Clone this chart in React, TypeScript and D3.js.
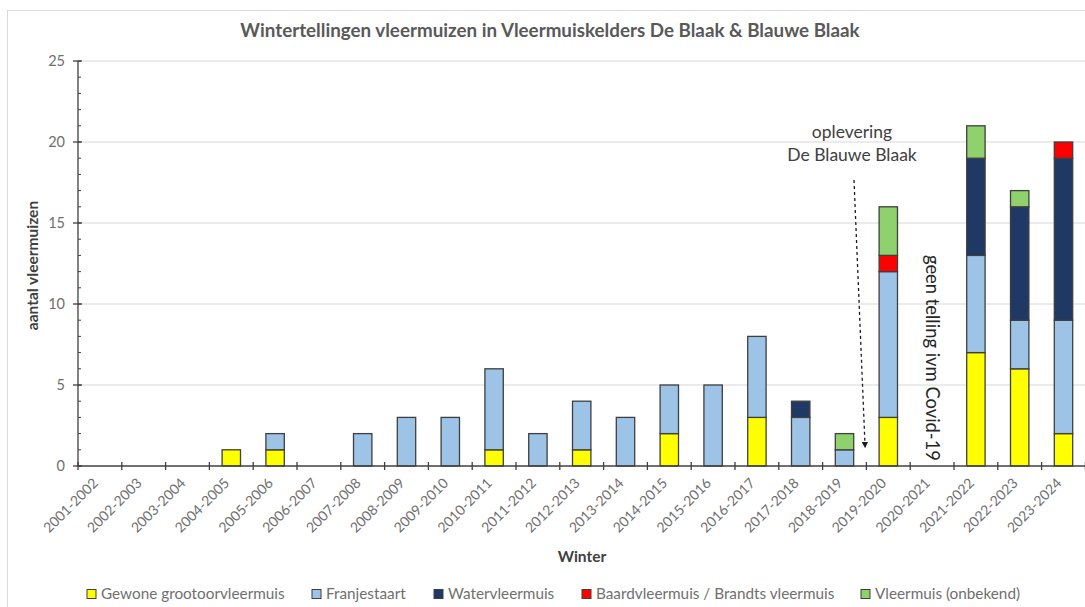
import React from "react";
import * as d3 from "d3";

const categories = [
  "2001-2002", "2002-2003", "2003-2004", "2004-2005", "2005-2006", "2006-2007",
  "2007-2008", "2008-2009", "2009-2010", "2010-2011", "2011-2012", "2012-2013",
  "2013-2014", "2014-2015", "2015-2016", "2016-2017", "2017-2018", "2018-2019",
  "2019-2020", "2020-2021", "2021-2022", "2022-2023", "2023-2024",
];
const gewone = [0, 0, 0, 1, 1, 0, 0, 0, 0, 1, 0, 1, 0, 2, 0, 3, 0, 0, 3, 0, 7, 6, 2];
const franjestaart = [0, 0, 0, 0, 1, 0, 2, 3, 3, 5, 2, 3, 3, 3, 5, 5, 3, 1, 9, 0, 6, 3, 7];
const water = [0, 0, 0, 0, 0, 0, 0, 0, 0, 0, 0, 0, 0, 0, 0, 0, 1, 0, 0, 0, 6, 7, 10];
const baard = [0, 0, 0, 0, 0, 0, 0, 0, 0, 0, 0, 0, 0, 0, 0, 0, 0, 0, 1, 0, 0, 0, 1];
const onbekend = [0, 0, 0, 0, 0, 0, 0, 0, 0, 0, 0, 0, 0, 0, 0, 0, 0, 1, 3, 0, 2, 1, 0];
const seriesNames = [
  "Gewone grootoorvleermuis",
  "Franjestaart",
  "Watervleermuis",
  "Baardvleermuis / Brandts vleermuis",
  "Vleermuis (onbekend)",
];
const yTicks = [0, 5, 10, 15, 20, 25];

const colors = ["#ffff00", "#9dc3e6", "#1f3864", "#ff0000", "#8fd16c"];
const legendX = [87, 312, 434, 582, 861];

const W = 1085;
const H = 607;
const left = 78;
const right = 1085.4;
const top = 61;
const bottom = 466;
const FONT = "Lato, 'Open Sans', sans-serif";
const GREY = "#595959";
const LABEL = "#6f6f6f";

export default function App() {
  const keys = ["g", "f", "w", "b", "o"];
  const table = categories.map((c, i) => ({
    cat: c,
    g: gewone[i],
    f: franjestaart[i],
    w: water[i],
    b: baard[i],
    o: onbekend[i],
  }));
  const stacked = d3.stack<any>().keys(keys)(table);

  const x = d3
    .scaleBand()
    .domain(categories)
    .range([left, right])
    .paddingInner(0.58)
    .paddingOuter(0.29);
  const step = x.step();
  const y = d3.scaleLinear().domain([0, 25]).range([bottom, top]);
  const minor = d3.range(0, 26);

  return (
    <svg
      width={W}
      height={H}
      style={{ position: "absolute", left: 0, top: 0, background: "#fff" }}
      fontFamily={FONT}
    >
      <rect x={0} y={0} width={W} height={H} fill="#fff" />
      <rect x={7.5} y={10.5} width={1100} height={620} fill="none" stroke="#d9d9d9" strokeWidth={1} />
      <text x={550} y={37} textAnchor="middle" fontSize={18.8} fontWeight="bold" fill={GREY}>
        Wintertellingen vleermuizen in Vleermuiskelders De Blaak &amp; Blauwe Blaak
      </text>

      {/* gridlines */}
      {yTicks.filter((t) => t > 0).map((t) => (
        <line key={"g" + t} x1={left} x2={right} y1={y(t)} y2={y(t)} stroke="#e5e5e5" strokeWidth={1.5} />
      ))}

      {/* bars */}
      {stacked.map((s, si) =>
        s.map((d, i) => {
          if (d[1] - d[0] <= 0) return null;
          return (
            <rect
              key={si + "-" + i}
              x={x(categories[i])}
              width={x.bandwidth()}
              y={y(d[1])}
              height={y(d[0]) - y(d[1])}
              fill={colors[si]}
              stroke="#3f3f3f"
              strokeWidth={1.3}
            />
          );
        })
      )}

      {/* y axis */}
      <line x1={left} x2={left} y1={top} y2={bottom} stroke="#404040" strokeWidth={1.3} />
      {minor.map((t) => (
        <line key={"m" + t} x1={left} x2={left + 3} y1={y(t)} y2={y(t)} stroke="#404040" strokeWidth={1} />
      ))}
      {yTicks.map((t) => (
        <g key={"t" + t}>
          <line x1={left - 5} x2={left + 4} y1={y(t)} y2={y(t)} stroke="#404040" strokeWidth={1.3} />
          <text x={65} y={y(t) + 5} textAnchor="end" fontSize={14.5} fill={LABEL}>
            {t}
          </text>
        </g>
      ))}
      <text
        transform={`translate(38,${(top + bottom) / 2 + 2}) rotate(-90)`}
        textAnchor="middle"
        fontSize={15.5}
        fontWeight="bold"
        fill="#404040"
      >
        aantal vleermuizen
      </text>

      {/* x axis */}
      <line x1={left} x2={right} y1={bottom} y2={bottom} stroke="#404040" strokeWidth={1.3} />
      {d3.range(0, categories.length + 1).map((i) => (
        <line
          key={"xt" + i}
          x1={left + i * step}
          x2={left + i * step}
          y1={bottom - 4}
          y2={bottom + 4}
          stroke="#404040"
          strokeWidth={1.3}
        />
      ))}
      {categories.map((c) => (
        <text
          key={"xl" + c}
          transform={`translate(${(x(c) as number) + x.bandwidth() / 2 - 1},${bottom + 18}) rotate(-45)`}
          textAnchor="end"
          fontSize={14}
          fill={LABEL}
        >
          {c}
        </text>
      ))}
      <text x={582} y={562} textAnchor="middle" fontSize={15.5} fontWeight="bold" fill="#404040">
        Winter
      </text>

      {/* annotations */}
      <text x={852} y={138} textAnchor="middle" fontSize={17.5} fill="#404040">
        oplevering
      </text>
      <text x={852} y={161} textAnchor="middle" fontSize={17.5} fill="#404040">
        De Blauwe Blaak
      </text>
      <defs>
        <marker id="arr" viewBox="0 0 10 10" refX="5" refY="5" markerWidth="5" markerHeight="5" orient="auto">
          <path d="M0,0 L10,5 L0,10 z" fill="#1a1a1a" />
        </marker>
      </defs>
      <line
        x1={854}
        y1={180}
        x2={865}
        y2={445}
        stroke="#1a1a1a"
        strokeWidth={1.3}
        strokeDasharray="3,3"
        markerEnd="url(#arr)"
      />
      <text
        transform="translate(925.5,358) rotate(90)"
        textAnchor="middle"
        fontSize={18.4}
        fill="#262626"
      >
        geen telling ivm Covid-19
      </text>

      {/* legend */}
      {seriesNames.map((n, i) => (
        <g key={"lg" + i}>
          <rect x={legendX[i]} y={589.5} width={9} height={9} fill={colors[i]} stroke="#3f3f3f" strokeWidth={1} />
          <text x={legendX[i] + 14} y={599} fontSize={15.3} fill={LABEL}>
            {n}
          </text>
        </g>
      ))}
    </svg>
  );
}
